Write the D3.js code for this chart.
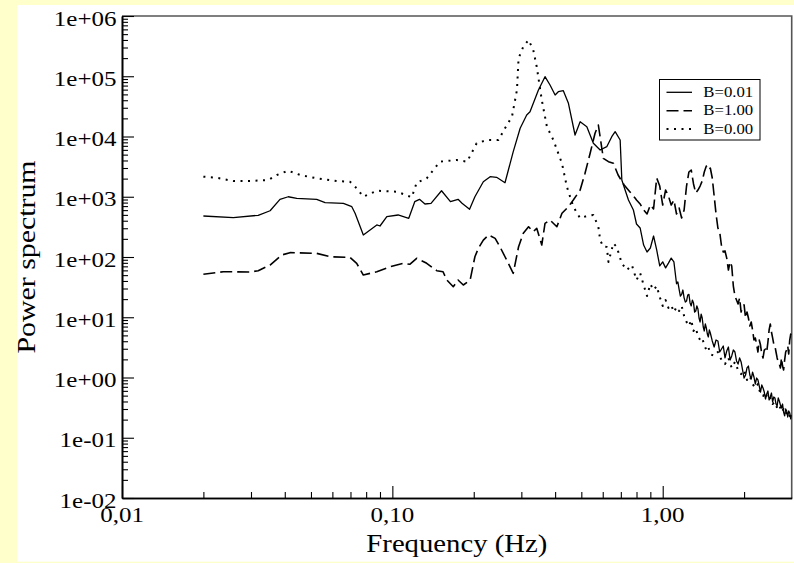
<!DOCTYPE html>
<html>
<head>
<meta charset="utf-8">
<script src="https://cdn.jsdelivr.net/npm/d3@7"></script>
<style>
  html, body { margin: 0; padding: 0; background: #ffffcc; }
  svg { display: block; }
</style>
</head>
<body>
<svg id="chart" width="794" height="563" font-family="'Liberation Serif', 'Times New Roman', serif"></svg>
<script>
// Power spectra for three values of B: [frequency (Hz), power]
const spectrumB001 = [
  [0.0200,479],[0.0258,449],[0.0319,492],[0.0353,586],[0.0384,907],[0.0412,1000],[0.0443,942],
  [0.0525,907],[0.0564,797],[0.0659,778],[0.0708,684],[0.0728,531],[0.0781,232],[0.0876,340],
  [0.0900,327],[0.0954,467],[0.105,498],[0.115,439],[0.121,828],[0.126,907],[0.132,758],
  [0.139,778],[0.152,1259],[0.164,828],[0.175,907],[0.181,778],[0.193,619],[0.202,1000],
  [0.217,1778],[0.230,2152],[0.243,2104],[0.261,1710],[0.280,5596],[0.297,13680],[0.314,22750],
  [0.323,25820],[0.347,59160],[0.367,98300],[0.383,71600],[0.400,48860],[0.411,55460],
  [0.429,57540],[0.448,35560],[0.474,10590],[0.495,17620],[0.524,14550],[0.554,7709],
  [0.587,5970],[0.621,6776],[0.648,9931],[0.667,12020],[0.696,8750],[0.706,1897],[0.726,1294],
  [0.747,883],[0.779,603],
  [0.800,353],[0.825,303],[0.850,158],[0.875,121],[0.900,141],[0.925,223],[0.950,131],
  [0.975,71],[1.000,83],[1.025,66],[1.050,79],[1.075,96],[1.100,83],[1.125,36],[1.1375,38.5],
  [1.150,29],[1.1625,22.5],[1.175,24],[1.1875,28.3],[1.200,21],[1.2125,17.9],[1.225,18.6],
  [1.2375,23.4],[1.250,24],[1.2625,17.3],[1.275,15.4],[1.2875,19.3],[1.300,17.3],[1.3125,12.2],
  [1.325,12.7],[1.3375,15.4],[1.350,13.7],[1.3625,9.72],[1.375,8.34],[1.3875,11.3],[1.400,9.72],
  [1.4125,6.89],[1.425,5.92],[1.4375,7.73],[1.450,6.64],[1.4625,5.27],[1.475,4.70],[1.4875,6.14],
  [1.500,5.48],[1.525,4.04],[1.55,3.21],[1.575,4.19],[1.60,4.04],[1.625,2.65],[1.65,2.97],
  [1.675,3.33],[1.70,2.11],[1.725,2.75],[1.75,3.21],[1.775,1.95],[1.80,2.28],[1.825,2.86],
  [1.85,2.65],[1.875,1.88],[1.90,1.67],[1.925,2.11],[1.95,1.81],[1.975,1.33],[2.00,0.98],
  [2.025,1.10],[2.05,1.44],[2.075,1.55],[2.10,1.10],[2.125,0.944],[2.15,1.23],[2.175,1.02],
  [2.20,0.78],[2.225,0.98],[2.25,0.91],[2.275,0.723],[2.30,0.574],[2.325,0.751],[2.35,0.670],
  [2.375,0.574],[2.40,0.440],[2.425,0.532],[2.45,0.597],[2.475,0.424],[2.50,0.474],[2.525,0.553],
  [2.55,0.392],[2.575,0.474],[2.60,0.457],[2.625,0.363],[2.65,0.337],[2.675,0.457],[2.70,0.407],
  [2.725,0.350],[2.75,0.312],[2.775,0.363],[2.80,0.267],[2.825,0.230],[2.85,0.300],[2.875,0.278],
  [2.90,0.221],[2.925,0.278],[2.95,0.258],[2.975,0.205],[3.00,0.239]
];

const spectrumB100 = [
  [0.0200,51.6],[0.0237,57.0],[0.0298,56.4],[0.0319,59.3],[0.0353,73.6],[0.0390,108],[0.0418,118],
  [0.0525,115],[0.0588,101],[0.0697,98.8],[0.0738,78.5],[0.0781,50.2],[0.0876,57.0],[0.0981,69.0],
  [0.110,78.5],[0.116,75.7],[0.123,95.1],[0.134,78.5],[0.146,59.3],[0.154,57.0],[0.159,41.5],
  [0.168,32.1],[0.175,41.5],[0.183,34.3],[0.194,41.5],[0.202,101],[0.208,139],[0.217,191],
  [0.227,232],[0.240,204],[0.250,148],[0.261,101],[0.280,53.6],[0.293,148],[0.305,247],
  [0.319,318],[0.332,263],[0.342,299],[0.357,158],[0.367,362],[0.383,411],[0.406,318],
  [0.424,531],[0.448,684],[0.467,883],[0.495,1294],[0.516,2449],[0.539,5260],[0.562,11300],
  [0.578,15520],[0.603,4345],[0.630,3819],[0.657,3589],[0.684,2296],[0.720,1567],[0.757,1199],
  [0.790,953],
  [0.800,883],[0.825,759],[0.850,603],[0.875,517],[0.900,729],[0.925,627],[0.950,2047],
  [0.975,1507],[1.000,729],[1.025,1294],[1.050,1028],[1.075,729],[1.100,883],[1.125,517],
  [1.150,650],[1.175,444],[1.200,603],[1.225,1507],[1.250,2576],[1.275,2780],[1.300,1629],
  [1.325,1153],[1.350,1294],[1.375,1507],[1.400,1824],[1.425,2576],[1.450,3236],[1.475,2780],
  [1.500,2999],[1.525,2047],[1.55,1028],[1.575,517],[1.60,303],[1.625,260],[1.65,152],
  [1.675,121],[1.70,126],[1.725,96],[1.75,60.8],[1.775,83],[1.80,71.0],[1.825,33.0],[1.85,22.5],
  [1.875,19.3],[1.90,16.6],[1.925,20.9],[1.95,12.2],[1.975,15.4],[2.00,16.0],[2.025,9.72],
  [2.05,12.2],[2.075,9.72],[2.10,7.16],[2.125,8.34],[2.15,6.14],[2.175,4.19],[2.20,4.53],
  [2.225,3.60],[2.25,2.65],[2.275,4.19],[2.30,3.46],[2.325,2.45],[2.35,2.11],[2.375,2.86],
  [2.40,2.97],[2.425,2.65],[2.45,3.88],[2.475,6.14],[2.50,7.73],[2.525,5.69],[2.55,4.53],
  [2.575,3.60],[2.60,3.33],[2.625,2.65],[2.65,2.11],[2.675,1.81],[2.70,1.67],[2.725,1.44],
  [2.75,2.11],[2.775,1.55],[2.80,1.33],[2.825,1.95],[2.85,2.65],[2.875,2.86],[2.90,3.33],
  [2.925,2.45],[2.95,4.19],[2.975,5.27],[3.00,4.89]
];

const spectrumB000 = [
  [0.0200,2153],[0.0224,2070],[0.0258,1824],[0.0298,1824],[0.0348,1897],[0.0374,2296],
  [0.0412,2706],[0.0456,2296],[0.0525,2024],[0.0623,1824],[0.0697,1778],[0.0738,1380],
  [0.0781,1002],[0.0876,1259],[0.104,1213],[0.118,979],[0.123,1710],[0.134,2024],[0.150,3819],
  [0.173,4074],[0.189,3819],[0.205,7709],[0.224,8750],[0.247,8750],[0.261,13680],[0.277,21310],
  [0.289,59160],[0.293,198600],[0.305,309400],[0.319,399900],[0.332,272700],[0.342,144100],
  [0.357,40360],[0.373,14550],[0.394,8750],[0.424,3589],[0.442,1469],[0.467,684],[0.495,439],
  [0.524,479],[0.554,498],[0.578,318],[0.587,191],[0.603,148],[0.621,147],[0.630,82.6],
  [0.657,169],[0.676,147],[0.706,78.5],[0.737,60.8],[0.769,73.6],
  [0.800,41.5],[0.825,54.2],[0.850,34.3],[0.875,22.5],[0.900,35.6],[0.925,28.3],[0.950,33.0],
  [0.975,21.7],[1.000,15.4],[1.025,19.3],[1.050,14.3],[1.075,16.0],[1.100,12.2],[1.125,14.8],
  [1.150,12.7],[1.175,15.4],[1.200,10.5],[1.225,8.34],[1.250,7.16],[1.275,9.00],[1.300,5.92],
  [1.325,6.64],[1.350,4.89],[1.375,4.19],[1.400,4.53],[1.425,3.46],[1.450,2.86],[1.475,3.21],
  [1.500,2.45],[1.55,2.28],[1.60,2.65],[1.65,1.95],[1.70,1.67],[1.75,2.11],[1.80,1.44],
  [1.85,1.81],[1.90,1.33],[1.95,1.14],[2.00,1.33],[2.05,0.91],[2.10,1.06],[2.15,0.78],
  [2.20,0.670],[2.25,0.78],[2.30,0.532],[2.35,0.493],[2.40,0.574],[2.45,0.424],[2.50,0.457],
  [2.55,0.363],[2.60,0.392],[2.65,0.312],[2.70,0.350],[2.75,0.267],[2.80,0.300],[2.85,0.248],
  [2.90,0.278],[2.95,0.230],[3.00,0.213]
];

const seriesLabels = ["B=0.01", "B=1.00", "B=0.00"];

// Axis ticks and their printed labels
const xTickValues = [0.01, 0.1, 1];
const xTickLabels = ["0,01", "0,10", "1,00"];
const yTickValues = [1e-2, 1e-1, 1e0, 1e1, 1e2, 1e3, 1e4, 1e5, 1e6];
const yTickLabels = ["1e-02", "1e-01", "1e+00", "1e+01", "1e+02", "1e+03", "1e+04", "1e+05", "1e+06"];
const xTitle = "Frequency (Hz)";
const yTitle = "Power  spectrum";

// ---- layout ----
const W = 794, H = 563;
const plot = { left: 122, top: 16, right: 791.7, bottom: 498 };

const svg = d3.select("#chart");

// white page area over the yellow background
svg.append("rect").attr("x", 17).attr("y", 5).attr("width", W - 17).attr("height", 556.7)
  .attr("fill", "#ffffff");

const x = d3.scaleLog().domain([0.01, 3.0]).range([plot.left, plot.right]);
const y = d3.scaleLog().domain([1e-2, 1e6]).range([plot.bottom, plot.top]);

// minor tick positions (2..9 of each decade)
const xMinor = [];
for (let e = -2; e <= 0; e++) for (let m = 2; m <= 9; m++) {
  const v = m * Math.pow(10, e);
  if (v < 3.0) xMinor.push(v);
}
const yMinor = [];
for (let e = -2; e < 6; e++) for (let m = 2; m <= 9; m++) yMinor.push(m * Math.pow(10, e));

// frame: top and right edges
svg.append("path")
  .attr("d", `M${plot.left},${plot.top}H${plot.right}V${plot.bottom}`)
  .attr("fill", "none").attr("stroke", "#555").attr("stroke-width", 1.6);

// axes with inward ticks
const gx = svg.append("g").attr("transform", `translate(0,${plot.bottom})`);
gx.call(d3.axisBottom(x).tickValues(xMinor).tickSizeInner(-6).tickSizeOuter(0).tickFormat(""));
const gxMaj = svg.append("g").attr("transform", `translate(0,${plot.bottom})`);
gxMaj.call(d3.axisBottom(x).tickValues(xTickValues).tickSizeInner(-12).tickSizeOuter(0).tickFormat(""));

const gy = svg.append("g").attr("transform", `translate(${plot.left},0)`);
gy.call(d3.axisLeft(y).tickValues(yMinor).tickSizeInner(-6).tickSizeOuter(0).tickFormat(""));
const gyMaj = svg.append("g").attr("transform", `translate(${plot.left},0)`);
gyMaj.call(d3.axisLeft(y).tickValues(yTickValues).tickSizeInner(-12).tickSizeOuter(0).tickFormat(""));

svg.selectAll(".domain").attr("stroke", "#000").attr("stroke-width", 1.6);
svg.selectAll(".tick line").attr("stroke", "#000").attr("stroke-width", 1.1);

// tick labels (the serif face is drawn slightly widened)
const tickFont = 21, tickStretch = 1.19;
svg.append("g").selectAll("text").data(yTickValues).join("text")
  .attr("transform", d => `translate(116.5,${y(d) + 9.5}) scale(${tickStretch},1)`)
  .attr("text-anchor", "end").attr("font-size", tickFont)
  .text((d, i) => yTickLabels[i]);

svg.append("g").selectAll("text").data(xTickValues).join("text")
  .attr("transform", d => `translate(${x(d)},521.5) scale(${tickStretch},1)`)
  .attr("text-anchor", "middle").attr("font-size", tickFont)
  .text((d, i) => xTickLabels[i]);

// axis titles
svg.append("text")
  .attr("x", (plot.left + plot.right) / 2).attr("y", 551.5)
  .attr("text-anchor", "middle").attr("font-size", 25)
  .attr("textLength", 181).attr("lengthAdjust", "spacingAndGlyphs")
  .text(xTitle);

svg.append("text")
  .attr("transform", `translate(35,${(plot.top + plot.bottom) / 2}) rotate(-90)`)
  .attr("text-anchor", "middle").attr("font-size", 25)
  .attr("textLength", 193).attr("lengthAdjust", "spacingAndGlyphs")
  .text(yTitle);

// spectra
const line = d3.line().x(d => x(d[0])).y(d => y(d[1]));
const styles = [
  { data: spectrumB001, width: 1.3, dash: null },
  { data: spectrumB100, width: 1.6, dash: "12,5" },
  { data: spectrumB000, width: 2.0, dash: "2,5.5" }
];

svg.append("clipPath").attr("id", "plotClip").append("rect")
  .attr("x", plot.left).attr("y", plot.top)
  .attr("width", plot.right - plot.left).attr("height", plot.bottom - plot.top);

const gLines = svg.append("g").attr("clip-path", "url(#plotClip)");
[styles[2], styles[1], styles[0]].forEach(s => {
  gLines.append("path").datum(s.data)
    .attr("d", line)
    .attr("fill", "none").attr("stroke", "#000")
    .attr("stroke-width", s.width)
    .attr("stroke-linejoin", "round")
    .attr("stroke-dasharray", s.dash);
});

// legend
const legend = svg.append("g");
legend.append("rect").attr("x", 659.5).attr("y", 79.5).attr("width", 100.5).attr("height", 60.5)
  .attr("fill", "#fff").attr("stroke", "#000").attr("stroke-width", 1);
const rowY = [92.3, 110.7, 129];
seriesLabels.forEach((lab, i) => {
  legend.append("line")
    .attr("x1", 666.5).attr("x2", 692).attr("y1", rowY[i]).attr("y2", rowY[i])
    .attr("stroke", "#000").attr("stroke-width", styles[i].width)
    .attr("stroke-dasharray", styles[i].dash);
  legend.append("text")
    .attr("transform", `translate(703.3,${rowY[i] + 4.6}) scale(1.23,1)`)
    .attr("font-size", 13.6)
    .text(lab);
});
</script>
</body>
</html>
